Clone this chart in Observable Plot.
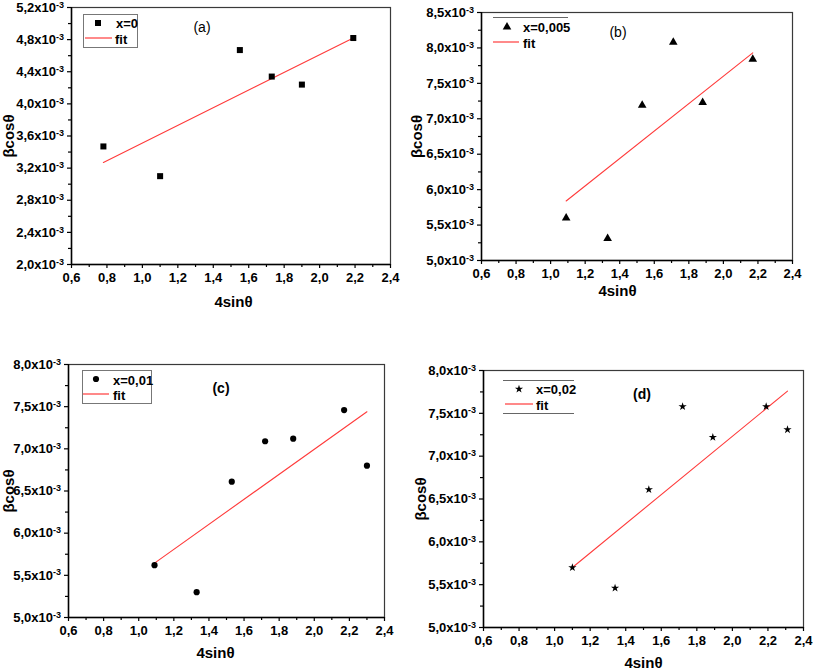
<!DOCTYPE html>
<html>
<head>
<meta charset="utf-8">
<script src="https://cdn.jsdelivr.net/npm/d3@7"></script>
<script src="https://cdn.jsdelivr.net/npm/@observablehq/plot@0.6"></script>
<style>
  html, body { margin: 0; padding: 0; background: #fff; }
  #root { position: relative; width: 813px; height: 670px; background: #fff; overflow: hidden; font-family: "Liberation Sans", Arial, sans-serif; }
  .panel { position: absolute; }
  #overlay { position: absolute; left: 0; top: 0; pointer-events: none; }
</style>
</head>
<body>
<div id="root"></div>
<script>
// ---------- data ----------
const xTicks = [0.6, 0.8, 1.0, 1.2, 1.4, 1.6, 1.8, 2.0, 2.2, 2.4];
const xMinorTicks = [0.7, 0.9, 1.1, 1.3, 1.5, 1.7, 1.9, 2.1, 2.3];

// (a) x = 0
const xA = [0.78, 1.10, 1.55, 1.73, 1.90, 2.19];
const yA = [3.47e-3, 3.10e-3, 4.67e-3, 4.34e-3, 4.24e-3, 4.82e-3];
const fitXA = [0.78, 2.19];
const fitYA = [3.27e-3, 4.82e-3];
const yTicksA = [2.0e-3, 2.4e-3, 2.8e-3, 3.2e-3, 3.6e-3, 4.0e-3, 4.4e-3, 4.8e-3, 5.2e-3];
const yMinorA = [2.2e-3, 2.6e-3, 3.0e-3, 3.4e-3, 3.8e-3, 4.2e-3, 4.6e-3, 5.0e-3];

// (b) x = 0,005
const xB = [1.09, 1.33, 1.53, 1.71, 1.88, 2.17];
const yB = [5.60e-3, 5.31e-3, 7.19e-3, 8.08e-3, 7.23e-3, 7.84e-3];
const fitXB = [1.09, 2.17];
const fitYB = [5.84e-3, 7.93e-3];
const yTicksB = [5.0e-3, 5.5e-3, 6.0e-3, 6.5e-3, 7.0e-3, 7.5e-3, 8.0e-3, 8.5e-3];
const yMinorB = [5.25e-3, 5.75e-3, 6.25e-3, 6.75e-3, 7.25e-3, 7.75e-3, 8.25e-3];

// (c) x = 0,01
const xC = [1.09, 1.33, 1.53, 1.72, 1.88, 2.17, 2.30];
const yC = [5.62e-3, 5.30e-3, 6.61e-3, 7.09e-3, 7.12e-3, 7.46e-3, 6.80e-3];
const fitXC = [1.09, 2.30];
const fitYC = [5.645e-3, 7.44e-3];
const yTicksCD = [5.0e-3, 5.5e-3, 6.0e-3, 6.5e-3, 7.0e-3, 7.5e-3, 8.0e-3];
const yMinorCD = [5.25e-3, 5.75e-3, 6.25e-3, 6.75e-3, 7.25e-3, 7.75e-3];

// (d) x = 0,02
const xD = [1.10, 1.34, 1.53, 1.72, 1.89, 2.19, 2.31];
const yD = [5.70e-3, 5.46e-3, 6.61e-3, 7.58e-3, 7.22e-3, 7.58e-3, 7.31e-3];
const fitXD = [1.10, 2.31];
const fitYD = [5.70e-3, 7.76e-3];

const seriesNames = ["x=0", "x=0,005", "x=0,01", "x=0,02"];
const panelLetters = ["(a)", "(b)", "(c)", "(d)"];

// ---------- rendering ----------
const FIT = "#ff3b3b";
const FONT = "'Liberation Sans', Arial, sans-serif";
const root = document.getElementById("root");

const fmtX = v => v.toFixed(1).replace(".", ",");
const fmtY = v => (v * 1000).toFixed(1).replace(".", ",") + "x10";

function makePanel(cfg) {
  const pts = cfg.xs.map((x, i) => ({x, y: cfg.ys[i]}));
  const fit = cfg.fx.map((x, i) => ({x, y: cfg.fy[i]}));
  const yDomain = [cfg.yTicks[0], cfg.yTicks[cfg.yTicks.length - 1]];
  const xDomain = [xTicks[0], xTicks[xTicks.length - 1]];
  const plot = Plot.plot({
    width: cfg.w, height: cfg.h,
    marginLeft: cfg.ml, marginRight: cfg.mr, marginTop: cfg.mt, marginBottom: cfg.mb,
    style: {fontFamily: FONT, fontSize: "13px", fontWeight: "bold", color: "#000", background: "transparent", overflow: "visible"},
    x: {domain: xDomain},
    y: {domain: yDomain},
    marks: [
      Plot.frame({stroke: "#3a3a3a", strokeWidth: 1.2}),
      Plot.axisX(xTicks, {tickSize: 4, tickPadding: 4.5, tickFormat: fmtX, label: null, strokeWidth: 1.2}),
      Plot.axisX(xMinorTicks, {tickSize: 3, tickFormat: () => "", label: null, strokeWidth: 1.2}),
      Plot.axisY(cfg.yTicks, {tickSize: 4, tickPadding: 3.5, tickFormat: fmtY, label: null, strokeWidth: 1.2}),
      Plot.axisY(cfg.yMinor, {tickSize: 3, tickFormat: () => "", label: null, strokeWidth: 1.2}),
      Plot.ruleX([xDomain[0]], {stroke: "#000", strokeWidth: 1.5}),
      Plot.ruleY([yDomain[0]], {stroke: "#000", strokeWidth: 1.5}),
      Plot.line(fit, {x: "x", y: "y", stroke: FIT, strokeWidth: 1.1}),
      Plot.dot(pts, {x: "x", y: "y", symbol: cfg.symbol, fill: "#000", stroke: "none", r: cfg.r}),
      Plot.text(["4sinθ"], {frameAnchor: "bottom", dx: cfg.xlDx, dy: cfg.xlDy, textAnchor: "middle", lineAnchor: "middle", fontSize: 15, fontWeight: "bold"}),
      Plot.text(["βcosθ"], {frameAnchor: "left", dx: cfg.ylDx, rotate: -90, textAnchor: "middle", lineAnchor: "middle", fontSize: 15, fontWeight: "bold"})
    ]
  });
  // superscript exponent on y tick labels
  d3.select(plot).selectAll('g[aria-label="y-axis tick label"] text').each(function() {
    const t = d3.select(this);
    if (t.text() !== "") {
      t.append("tspan").attr("dy", "-0.45em").style("font-size", "9px").text("-3");
    }
  });
  const div = document.createElement("div");
  div.className = "panel";
  div.style.left = cfg.left + "px";
  div.style.top = cfg.top + "px";
  div.appendChild(plot);
  root.appendChild(div);
}

makePanel({xs: xA, ys: yA, fx: fitXA, fy: fitYA, yTicks: yTicksA, yMinor: yMinorA, symbol: "square", r: 3.4,
  left: 0, top: 0, w: 406, h: 320, ml: 71, mr: 16, mt: 7, mb: 56, xlDx: 2.5, xlDy: 38, ylDx: -62});
makePanel({xs: xB, ys: yB, fx: fitXB, fy: fitYB, yTicks: yTicksB, yMinor: yMinorB, symbol: "triangle", r: 3.2,
  left: 406, top: 0, w: 407, h: 320, ml: 75, mr: 21, mt: 12, mb: 60, xlDx: -19.5, xlDy: 31, ylDx: -64});
makePanel({xs: xC, ys: yC, fx: fitXC, fy: fitYC, yTicks: yTicksCD, yMinor: yMinorCD, symbol: "circle", r: 3.1,
  left: 0, top: 330, w: 406, h: 340, ml: 68, mr: 22, mt: 34, mb: 53, xlDx: -11, xlDy: 36, ylDx: -59});
makePanel({xs: xD, ys: yD, fx: fitXD, fy: fitYD, yTicks: yTicksCD, yMinor: yMinorCD, symbol: "star", r: 2.6,
  left: 406, top: 330, w: 407, h: 340, ml: 77, mr: 10, mt: 40, mb: 43, xlDx: 0, xlDy: 36, ylDx: -62});

// ---------- legends and panel letters ----------
const ov = d3.select(root).append("svg").attr("id", "overlay").attr("width", 813).attr("height", 670)
  .style("font-family", FONT);

function symPath(type, r) {
  return d3.symbol(type, Math.PI * r * r)();
}

const legends = [
  {box: [83, 14, 54, 33], lines: null, sym: d3.symbolSquare, r: 3.4, sx: 98, sy: 23, tx: 116, ty: 23, fy: 38, fx0: 85, fx1: 112, ftx: 115, name: seriesNames[0]},
  {box: null, lines: [[493, 568, 17]], sym: d3.symbolTriangle, r: 3.2, sx: 507, sy: 27, tx: 523, ty: 27, fy: 42, fx0: 493, fx1: 519, ftx: 523, name: seriesNames[1]},
  {box: [82, 370, 69, 33], lines: null, sym: d3.symbolCircle, r: 3.1, sx: 96, sy: 379, tx: 113, ty: 380, fy: 394, fx0: 83, fx1: 109, ftx: 113, name: seriesNames[2]},
  {box: null, lines: [[503, 574, 380], [503, 574, 413]], sym: d3.symbolStar, r: 2.6, sx: 519, sy: 389, tx: 536, ty: 389, fy: 404, fx0: 505, fx1: 533, ftx: 536, name: seriesNames[3]}
];

legends.forEach(L => {
  if (L.box) {
    ov.append("rect").attr("x", L.box[0] + 0.5).attr("y", L.box[1] + 0.5).attr("width", L.box[2]).attr("height", L.box[3])
      .attr("fill", "#fff").attr("stroke", "#777").attr("stroke-width", 1);
  }
  if (L.lines) {
    L.lines.forEach(l => ov.append("line").attr("x1", l[0]).attr("x2", l[1]).attr("y1", l[2] + 0.5).attr("y2", l[2] + 0.5)
      .attr("stroke", "#666").attr("stroke-width", 1));
  }
  ov.append("path").attr("d", symPath(L.sym, L.r)).attr("transform", `translate(${L.sx},${L.sy})`).attr("fill", "#000");
  ov.append("text").attr("x", L.tx).attr("y", L.ty).attr("dy", "0.36em").attr("font-size", 13).attr("font-weight", "bold").text(L.name);
  ov.append("line").attr("x1", L.fx0).attr("x2", L.fx1).attr("y1", L.fy).attr("y2", L.fy).attr("stroke", FIT).attr("stroke-width", 1.2);
  ov.append("text").attr("x", L.ftx).attr("y", L.fy + 1).attr("dy", "0.36em").attr("font-size", 13).attr("font-weight", "bold").text("fit");
});

const letters = [
  {x: 202, y: 27, bold: false},
  {x: 618, y: 32, bold: false},
  {x: 221, y: 388, bold: true},
  {x: 642, y: 394, bold: true}
];
letters.forEach((p, i) => {
  ov.append("text").attr("x", p.x).attr("y", p.y).attr("dy", "0.36em").attr("text-anchor", "middle")
    .attr("font-size", 14).attr("font-weight", p.bold ? "bold" : "normal").text(panelLetters[i]);
});
</script>
</body>
</html>
